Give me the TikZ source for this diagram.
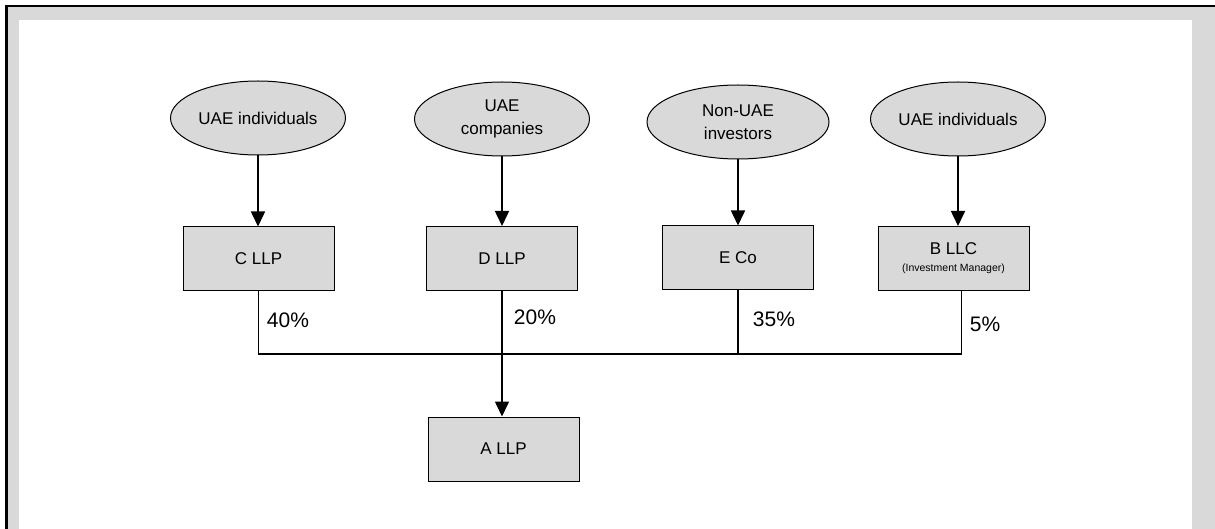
\documentclass[tikz,border=0pt]{standalone}
\usepackage{fontspec}
\setmainfont{Liberation Sans}
\usetikzlibrary{shapes.geometric,arrows.meta}
\definecolor{boxgray}{HTML}{D9D9D9}

\begin{document}
\begin{tikzpicture}[x=1pt, y=-1pt,
    owner/.style={ellipse, draw, fill=boxgray, line width=1pt, minimum width=175pt,
                  minimum height=74pt, inner sep=0pt, align=center, font=\fontsize{17}{23}\selectfont},
    entity/.style={draw, fill=boxgray, line width=1pt, minimum width=151pt, minimum height=64pt,
                   inner sep=0pt, align=center, font=\fontsize{17}{23}\selectfont},
    share/.style={inner sep=0pt, font=\fontsize{21}{25}\selectfont},
    arrow/.style={-{Triangle[length=15pt,width=14pt]}, line width=1.6pt},
    link/.style={line width=1.6pt}
]
% page frame
\useasboundingbox (0,0) rectangle (1215,529);
\fill[boxgray] (6.5,6) rectangle (1215,529);
\fill[white] (19,20.5) rectangle (1192,529);
\draw[line width=2.5pt] (6.5,529) -- (6.5,6) -- (1215,6);

\node[owner] (uae1) at (258,118) {UAE individuals};
\node[owner] (uaeco) at (502,119) {UAE\\companies};
\node[owner, minimum width=182pt] (nonuae) at (738,122) {Non-UAE\\investors};
\node[owner] (uae2) at (958,119) {UAE individuals};

\node[entity] (cllp) at (258.5,259) {C LLP};
\node[entity] (dllp) at (502,258.5) {D LLP};
\node[entity] (eco) at (738,258) {E Co};
\node[entity] (bllc) at (953.5,258.5) {B LLC\\[-6pt]{\fontsize{10.5}{12}\selectfont(Investment Manager)}};
\node[entity] (allp) at (503.5,449) {A LLP};

\node[share] (p40) at (288,320) {40\%};
\node[share] (p20) at (535,317) {20\%};
\node[share] (p35) at (774,319) {35\%};
\node[share] (p5) at (985,324) {5\%};

\coordinate (jn) at (502,354);

\draw[arrow] (uae1.south) -- (uae1.south |- cllp.north);
\draw[arrow] (uaeco.south) -- (uaeco.south |- dllp.north);
\draw[arrow] (nonuae.south) -- (nonuae.south |- eco.north);
\draw[arrow] (uae2.south) -- (uae2.south |- bllc.north);

\draw[link] (cllp.south) |- (jn) -| ([xshift=8pt]bllc.south);
\draw[link] (eco.south) -- (eco.south |- jn);
\draw[arrow] (dllp.south) -- (dllp.south |- allp.north);
\end{tikzpicture}
\end{document}
